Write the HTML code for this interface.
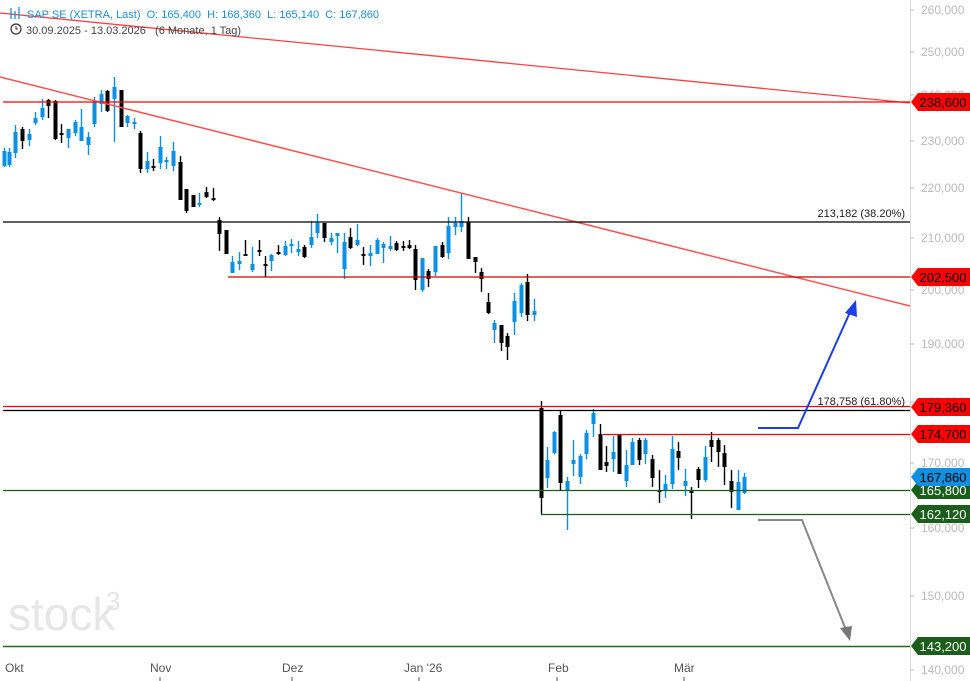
<!DOCTYPE html>
<html><head><meta charset="utf-8"><style>
html,body{margin:0;padding:0;background:#fff;width:970px;height:681px;overflow:hidden}
svg{display:block;font-family:"Liberation Sans",sans-serif}
</style></head><body>
<svg id="s" width="970" height="681" viewBox="0 0 970 681" xmlns="http://www.w3.org/2000/svg">
<text x="8" y="630" font-size="46" fill="#e6e6e6">stock</text>
<text x="106" y="610" font-size="26" fill="#e6e6e6">3</text>
<line x1="910.5" y1="0" x2="910.5" y2="681" stroke="#ddd"/>
<g font-size="12" fill="#bbb">
<text x="921" y="14">260,000</text><text x="921" y="56">250,000</text><text x="921" y="99">240,000</text>
<text x="921" y="145">230,000</text><text x="921" y="192">220,000</text><text x="921" y="242">210,000</text>
<text x="921" y="294">200,000</text><text x="921" y="348">190,000</text><text x="921" y="406">180,000</text>
<text x="921" y="467">170,000</text><text x="921" y="532">160,000</text><text x="921" y="600">150,000</text>
<text x="921" y="674">140,000</text>
</g>
<g stroke="#bbb"><line x1="910" y1="10" x2="914" y2="10"/><line x1="910" y1="52" x2="914" y2="52"/><line x1="910" y1="95" x2="914" y2="95"/><line x1="910" y1="141" x2="914" y2="141"/><line x1="910" y1="188" x2="914" y2="188"/><line x1="910" y1="238" x2="914" y2="238"/><line x1="910" y1="290" x2="914" y2="290"/><line x1="910" y1="344" x2="914" y2="344"/><line x1="910" y1="402" x2="914" y2="402"/><line x1="910" y1="463" x2="914" y2="463"/><line x1="910" y1="528" x2="914" y2="528"/><line x1="910" y1="596" x2="914" y2="596"/><line x1="910" y1="670" x2="914" y2="670"/></g>
<g font-size="12" fill="#555">
<text x="5" y="672">Okt</text><text x="150" y="672">Nov</text><text x="282" y="672">Dez</text><text x="404" y="672">Jan '26</text><text x="548" y="672">Feb</text><text x="674" y="672">Mär</text>
</g>
<g stroke="#555"><line x1="160" y1="677" x2="160" y2="681"/><line x1="292" y1="677" x2="292" y2="681"/><line x1="419" y1="677" x2="419" y2="681"/><line x1="557" y1="677" x2="557" y2="681"/><line x1="684" y1="677" x2="684" y2="681"/></g>
<g id="c"></g>
<line x1="0" y1="13" x2="910" y2="103" stroke="#ff4040" stroke-width="1.3"/>
<line x1="0" y1="77" x2="910" y2="306" stroke="#ff5050" stroke-width="1.5"/>
<line x1="3" y1="102" x2="910" y2="102" stroke="#f00" stroke-width="1.3"/>
<line x1="3" y1="222" x2="910" y2="222" stroke="#000" stroke-width="1.2"/>
<text x="905" y="217" font-size="11" fill="#222" text-anchor="end">213,182 (38.20%)</text>
<line x1="228" y1="277" x2="910" y2="277" stroke="#c00" stroke-width="1.2"/>
<line x1="3" y1="406.5" x2="910" y2="406.5" stroke="#f00" stroke-width="1.3"/>
<line x1="3" y1="410.5" x2="910" y2="410.5" stroke="#000" stroke-width="1.2"/>
<text x="905" y="405" font-size="11" fill="#222" text-anchor="end">178,758 (61.80%)</text>
<line x1="603" y1="434.5" x2="910" y2="434.5" stroke="#f00" stroke-width="1.3"/>
<line x1="3" y1="490.5" x2="910" y2="490.5" stroke="#1a5e1a" stroke-width="1.2"/>
<line x1="541" y1="514.5" x2="910" y2="514.5" stroke="#1a5e1a" stroke-width="1.2"/>
<line x1="3" y1="646.5" x2="910" y2="646.5" stroke="#1a6e1a" stroke-width="1.5"/>
<polyline points="758,428 798,428 851,310" fill="none" stroke="#1a3ee8" stroke-width="2"/>
<polygon points="856,300 845,313 857,317" fill="#1a3ee8"/>
<polyline points="758,520 802,520 846,630" fill="none" stroke="#888" stroke-width="2"/>
<polygon points="850,641 840,628 852,626" fill="#777"/>
<g font-size="13" text-anchor="middle">
<polygon points="911,102 918,93 970,93 970,111 918,111" fill="#f00"/><text x="943" y="107" fill="#000">238,600</text>
<polygon points="911,277 918,268 970,268 970,286 918,286" fill="#f00"/><text x="943" y="282" fill="#000">202,500</text>
<polygon points="911,407 918,398 970,398 970,416 918,416" fill="#f00"/><text x="943" y="412" fill="#000">179,360</text>
<polygon points="911,434 918,425 970,425 970,443 918,443" fill="#f00"/><text x="943" y="439" fill="#000">174,700</text>
<polygon points="911,490 918,481 970,481 970,499 918,499" fill="#1a5e1a"/><text x="943" y="495" fill="#fff">165,800</text>
<polygon points="911,477 918,468 970,468 970,486 918,486" fill="#1090e0"/><text x="943" y="482" fill="#000">167,860</text>
<polygon points="911,514 918,505 970,505 970,523 918,523" fill="#1a5e1a"/><text x="943" y="519" fill="#fff">162,120</text>
<polygon points="911,646 918,637 970,637 970,655 918,655" fill="#1a5e1a"/><text x="943" y="651" fill="#fff">143,200</text>
</g>
<g stroke="#1a8fd6" stroke-width="1.3"><line x1="11" y1="8" x2="11" y2="19"/><line x1="15" y1="11" x2="15" y2="19"/><line x1="19" y1="7" x2="19" y2="19"/></g>
<text x="27" y="18" font-size="11" fill="#1a8fd6" xml:space="preserve">SAP SE (XETRA, Last)  O: 165,400  H: 168,360  L: 165,140  C: 167,860</text>
<circle cx="16" cy="29" r="5" fill="none" stroke="#333" stroke-width="1.2"/><path d="M16 26 V29 H18" fill="none" stroke="#333"/>
<text x="26" y="34" font-size="11" fill="#444" xml:space="preserve">30.09.2025 - 13.03.2026   (6 Monate, 1 Tag)</text>
</svg>
<script>
var d=[[4,151,166,148,167,'b'],[9,152,165,148,167,'b'],[15,132,153,125,158,'b'],[22,129,141,127,149,'k'],[29,134,140,129,146,'b'],[35,118,123,112,125,'b'],[42,108,117,99,120,'b'],[48,100,106,99,118,'k'],[55,101,139,100,140,'k'],[61,133,135,124,143,'k'],[68,129,138,129,148,'b'],[75,122,133,120,136,'b'],[81,127,141,109,136,'b'],[88,137,145,132,155,'b'],[94,102,124,97,127,'b'],[101,94,104,90,112,'b'],[107,91,111,90,112,'k'],[114,87,99,77,142,'b'],[121,90,127,90,127,'k'],[127,116,123,115,127,'b'],[134,122,123,118,129,'b'],[140,133,169,131,173,'k'],[147,161,169,152,173,'b'],[153,166,167,159,171,'k'],[160,147,163,136,169,'b'],[166,160,161,157,169,'b'],[173,151,166,142,171,'b'],[180,162,200,156,200,'k'],[186,189,211,189,213,'k'],[193,195,207,195,207,'k'],[199,203,205,193,207,'b'],[206,192,197,187,198,'k'],[213,198,199,188,201,'k'],[219,220,234,217,251,'k'],[226,230,254,230,254,'k'],[232,262,273,256,273,'b'],[239,261,264,252,270,'b'],[245,254,256,240,256,'k'],[252,264,270,247,272,'b'],[259,250,252,240,256,'k'],[265,264,265,256,277,'k'],[271,255,261,254,271,'b'],[278,252,254,245,255,'k'],[285,246,255,241,256,'b'],[291,244,246,239,253,'b'],[298,249,252,241,256,'b'],[304,247,257,245,258,'k'],[311,237,245,221,248,'b'],[317,223,233,214,238,'b'],[324,223,238,223,242,'k'],[331,238,242,233,245,'b'],[337,233,236,233,253,'b'],[344,242,269,233,279,'b'],[350,237,248,228,249,'k'],[357,240,245,224,246,'b'],[363,254,256,247,265,'k'],[370,253,256,245,266,'b'],[377,240,254,238,254,'b'],[383,244,248,242,263,'b'],[390,246,249,236,251,'b'],[396,243,250,241,251,'k'],[403,246,247,241,251,'k'],[409,245,248,240,249,'k'],[415,249,280,245,290,'k'],[422,258,290,258,292,'b'],[428,271,279,269,287,'k'],[435,246,272,246,276,'b'],[442,245,257,242,258,'k'],[448,226,253,217,259,'b'],[455,223,227,217,235,'b'],[461,221,227,193,232,'b'],[468,222,259,217,259,'k'],[475,257,262,257,273,'k'],[481,272,279,268,292,'k'],[488,302,313,293,314,'k'],[494,323,330,320,343,'b'],[501,325,343,325,351,'k'],[507,336,347,333,360,'k'],[514,301,322,293,335,'b'],[521,285,313,283,317,'b'],[527,282,315,274,321,'k'],[534,311,315,299,321,'b'],
[541,408,498,401,514,'k'],[547,460,478,447,488,'b'],[554,432,453,431,454,'b'],[560,415,483,410,490,'k'],[567,481,490,477,530,'b'],[573,460,464,440,476,'b'],[580,456,477,454,484,'b'],[586,433,454,430,459,'b'],[593,413,424,409,437,'b'],[600,434,470,424,470,'k'],[606,462,466,446,472,'k'],[613,452,459,436,472,'b'],[619,434,474,434,474,'k'],[626,465,481,450,487,'b'],[632,442,465,438,465,'b'],[639,440,460,438,465,'k'],[645,440,454,438,464,'b'],[652,459,478,455,487,'k'],[659,490,491,470,503,'k'],[665,484,490,475,498,'b'],[672,449,484,436,489,'b'],[678,451,458,442,470,'k'],[685,481,486,469,496,'b'],[691,491,492,487,519,'k'],[698,469,480,467,488,'k'],[705,457,480,446,482,'b'],[711,440,447,432,462,'k'],[718,440,452,438,467,'k'],[724,453,467,445,485,'k'],[731,481,492,470,508,'k'],[738,482,510,470,510,'b'],[744,477,493,473,494,'b']];
var g=document.getElementById('c'),h='';
d.forEach(function(c){var col=c[5]=='b'?'#0a90e4':'#000';var bh=Math.max(c[2]-c[1],2);
h+='<line x1="'+(c[0]+0.5)+'" y1="'+c[3]+'" x2="'+(c[0]+0.5)+'" y2="'+c[4]+'" stroke="'+col+'" stroke-width="1.4"/>';
h+='<rect x="'+(c[0]-1.5)+'" y="'+c[1]+'" width="4" height="'+bh+'" fill="'+col+'"/>';});
g.innerHTML=h;
</script>
</body></html>
